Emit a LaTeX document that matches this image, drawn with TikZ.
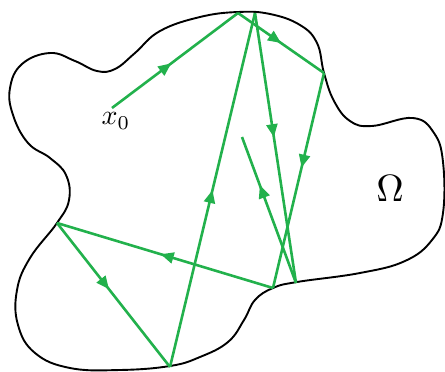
\documentclass[tikz,border=0pt]{standalone}
\usepackage{xcolor}
\usetikzlibrary{decorations.markings, arrows.meta}
\definecolor{raygreen}{RGB}{34,177,76}

\begin{document}
\begin{tikzpicture}[x=1pt, y=-1pt,
    wall/.style={line width=1.9pt, black},
    ray/.style={line width=2.6pt, raygreen},
    mid/.style={postaction={decorate, decoration={markings,
        mark=at position #1 with {\arrow{Triangle[length=13pt, width=11pt]}}}}}]

    \useasboundingbox (0,0) rectangle (445,372);

    % Boundary of the domain
    \draw[wall] plot[smooth cycle, tension=0.7] coordinates {
        (200,17) (238,12) (270,14) (300,25) (317,43) (324,73) (334,101)
        (350,121) (372,126) (413,118) (434,133) (443,162) (443,213)
        (432,240) (405,261) (360,273) (297,282) (273,288) (255,300)
        (244,320) (228,342) (200,357) (170,366) (120,370) (70,368)
        (35,353) (18,325) (17,290) (30,258) (57,223) (69,200) (66,175)
        (50,158) (28,143) (13,115) (10,88) (22,64) (50,53) (75,61)
        (97,71) (115,69) (135,53) (160,31)};

    % Reflection points
    \coordinate (x0) at (112,108);
    \coordinate (p1) at (238,13);
    \coordinate (p2) at (324,73);
    \coordinate (p3) at (273,288);
    \coordinate (p4) at (57,223);
    \coordinate (p5) at (170,367);
    \coordinate (p6) at (255,13);
    \coordinate (p7) at (296,283);
    \coordinate (p8) at (242,137);

    % Trajectory
    \draw[ray, mid=0.47] (x0) -- (p1);
    \draw[ray, mid=0.5] (p1) -- (p2);
    \draw[ray, mid=0.44] (p2) -- (p3);
    \draw[ray, mid=0.52] (p3) -- (p4);
    \draw[ray, mid=0.46] (p4) -- (p5);
    \draw[ray, mid=0.5] (p5) -- (p6);
    \draw[ray, mid=0.46] (p6) -- (p7);
    \draw[ray, mid=0.67] (p7) -- (p8);

    % Labels
    \node[scale=2.8] (lblx) at (116,121) {$x_0$};
    \node[scale=3.8] (lblom) at (390,189) {$\Omega$};

\end{tikzpicture}
\end{document}
